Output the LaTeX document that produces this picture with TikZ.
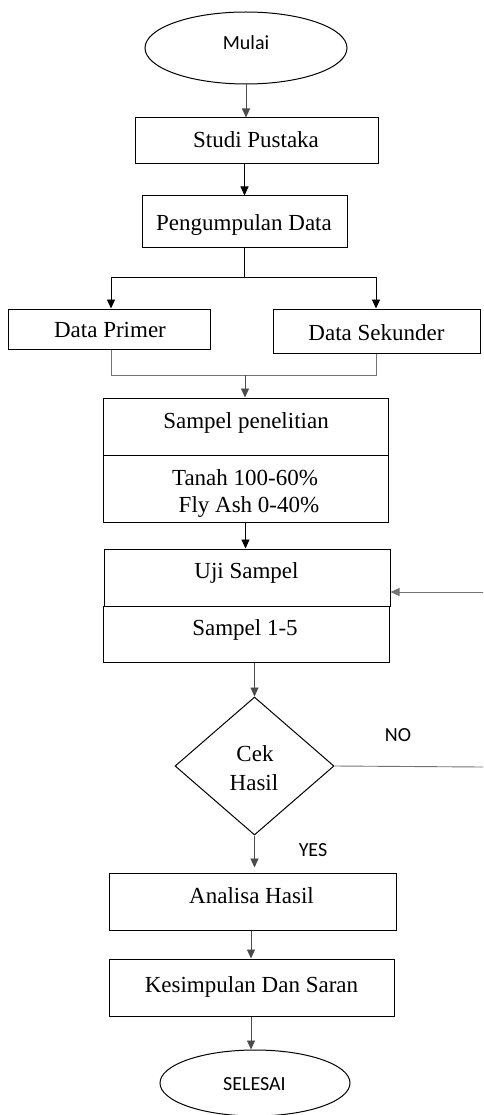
\documentclass[tikz,border=0pt]{standalone}
\usepackage{fontspec}
\setmainfont{Liberation Serif}
\newfontfamily\calibsans{Carlito}
\usetikzlibrary{arrows.meta,shapes.geometric,calc}
\begin{document}
\begin{tikzpicture}[x=1pt,y=-1pt,
  box/.style={draw, line width=1pt, rectangle, inner sep=0pt},
  oval/.style={draw, line width=1pt, ellipse, inner sep=0pt},
  txt/.style={anchor=base, inner sep=0pt, font=\fontsize{23}{27}\selectfont},
  stxt/.style={anchor=base, inner sep=0pt, font=\calibsans\fontsize{20}{24}\selectfont},
  arr/.style={-{Triangle[length=9pt,width=8pt]}, line width=0.9pt},
  ln/.style={line width=0.9pt},
  gln/.style={line width=0.9pt, draw=black!55}]
\useasboundingbox (0,0) rectangle (483,1115);
% shapes
\node[oval, minimum width=202pt, minimum height=72pt] (mulai) at (246,48) {};
\node[box, minimum width=243pt, minimum height=46pt] (studi) at (256.5,141) {};
\node[box, minimum width=205pt, minimum height=51pt] (peng) at (244.5,221.5) {};
\node[box, minimum width=202pt, minimum height=40pt] (primer) at (109,329) {};
\node[box, minimum width=207pt, minimum height=44pt] (sekunder) at (376.5,331) {};
\node[box, minimum width=285pt, minimum height=57pt] (sampel) at (245.5,426.5) {};
\node[box, minimum width=285pt, minimum height=67pt] (tanah) at (245.5,488.5) {};
\node[box, minimum width=286pt, minimum height=57pt] (uji) at (247,577.5) {};
\node[box, minimum width=286pt, minimum height=56pt] (s15) at (246,634) {};
\node[draw, line width=1pt, diamond, inner sep=0pt, minimum width=159pt, minimum height=138pt] (cek) at (254.5,766) {};
\node[box, minimum width=287pt, minimum height=57pt] (analisa) at (252.5,901.5) {};
\node[box, minimum width=285pt, minimum height=57pt] (kesimpulan) at (251.5,987.5) {};
\node[oval, minimum width=190pt, minimum height=66pt] (selesai) at (255,1083) {};
% texts
\node[stxt] (tmulai) at (246,50) {Mulai};
\node[txt] (tstudi) at (256,147.5) {Studi Pustaka};
\node[txt] (tpeng) at (244,230) {Pengumpulan Data};
\node[txt] (tprimer) at (110,337) {Data Primer};
\node[txt] (tsek) at (376.5,340) {Data Sekunder};
\node[txt] (tsampel) at (246,428) {Sampel penelitian};
\node[txt] (ttanah1) at (245,485) {Tanah 100-60\%};
\node[txt] (ttanah2) at (249,512) {Fly Ash 0-40\%};
\node[txt] (tuji) at (246.5,578) {Uji Sampel};
\node[txt] (ts15) at (245,635) {Sampel 1-5};
\node[txt] (tcek1) at (255,761) {Cek};
\node[txt] (tcek2) at (254,790) {Hasil};
\node[txt] (tanalisa) at (251.5,903) {Analisa Hasil};
\node[txt] (tkes) at (251.5,992) {Kesimpulan Dan Saran};
\node[stxt] (tselesai) at (254.5,1090) {SELESAI};
\node[stxt] (tno) at (398,741) {NO};
\node[stxt] (tyes) at (313,856) {YES};
% helper coordinates
\coordinate (split) at (244.5,277);
\coordinate (splitL) at (111,277);
\coordinate (splitR) at (376,277);
\coordinate (joinL) at (111,375);
\coordinate (joinR) at (376,375);
\coordinate (join) at (245,375);
\coordinate (noR) at (483,767);
\coordinate (backR) at (483,592);
% connectors
\draw[arr, draw=black!70] (mulai.south) -- (mulai.south |- studi.north);
\draw[arr] (peng.north |- studi.south) -- (peng.north);
\draw[ln] (peng.south) -- (split);
\draw[ln] (splitL) -- (splitR);
\draw[arr] (splitL) -- (splitL |- primer.north);
\draw[arr] (splitR) -- (splitR |- sekunder.north);
\draw[gln] (primer.south -| joinL) -- (joinL) -- (joinR) -- (sekunder.south -| joinR);
\draw[arr, draw=black!70] (join) -- (join |- sampel.north);
\draw[arr] (tanah.south) -- (tanah.south |- uji.north);
\draw[arr, draw=black!70] (cek.north |- s15.south) -- (cek.north);
\draw[gln] (cek.east) -- (noR);
\draw[arr, draw=black!55] (backR) -- (backR -| uji.east);
\draw[arr, draw=black!70] (cek.south) -- ($(cek.south |- analisa.north)+(0,-5)$);
\draw[arr, draw=black!70] (analisa.south -| 251,0) -- (kesimpulan.north -| 251,0);
\draw[arr, draw=black!70] (kesimpulan.south -| 251,0) -- (selesai.north -| 251,0);
\end{tikzpicture}
\end{document}
